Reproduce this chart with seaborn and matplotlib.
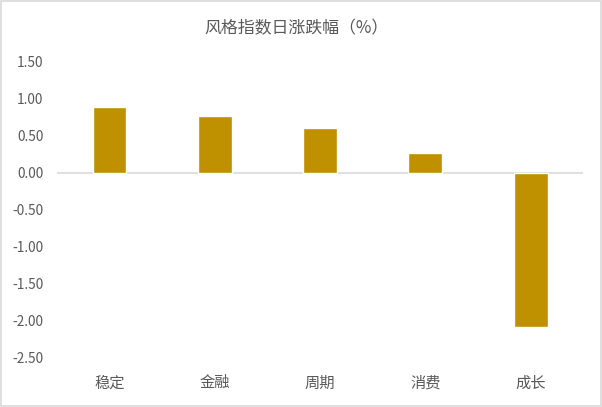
# 风格指数日涨跌幅 bar chart
import pandas as pd
import seaborn as sns
import matplotlib.pyplot as plt
from matplotlib.patches import Rectangle

categories = ['稳定', '金融', '周期', '消费', '成长']
changes = [0.89, 0.76, 0.61, 0.27, -2.09]
y_ticks = [1.5, 1.0, 0.5, 0.0, -0.5, -1.0, -1.5, -2.0, -2.5]

df = pd.DataFrame({'style': categories, 'change': changes})

sns.set_theme(style='white')
plt.rcParams['font.family'] = ['Noto Sans CJK SC', 'DejaVu Sans']

fig = plt.figure(figsize=(6.02, 4.07), dpi=100)
ax = fig.add_axes([0.0942, 0.1211, 0.8748, 0.7273])

sns.barplot(data=df, x='style', y='change', color='#BF9000',
            saturation=1, width=0.32, ax=ax)

ax.set_ylim(-2.5, 1.5)
ax.set_xlim(-0.5, 4.5)
ax.set_yticks(y_ticks)
ax.set_yticklabels([f'{v:.2f}' for v in y_ticks])
ax.axhline(0, color='#D9D9D9', lw=1.2, zorder=0)

for s in ax.spines.values():
    s.set_visible(False)
ax.tick_params(axis='y', length=0, pad=9.5, labelsize=9.8, labelcolor='#595959')
ax.tick_params(axis='x', length=0, pad=12, labelsize=11, labelcolor='#595959')
ax.set_xlabel('')
ax.set_ylabel('')

fig.text(0.493, 0.931, '风格指数日涨跌幅（%）', ha='center', va='center',
         fontsize=12.2, color='#595959')

fig.patches.append(Rectangle((0.002, 0.002), 0.996, 0.996, transform=fig.transFigure,
                             fill=False, edgecolor='#D9D9D9', lw=1.2))

fig.savefig('out.png', dpi=100)
